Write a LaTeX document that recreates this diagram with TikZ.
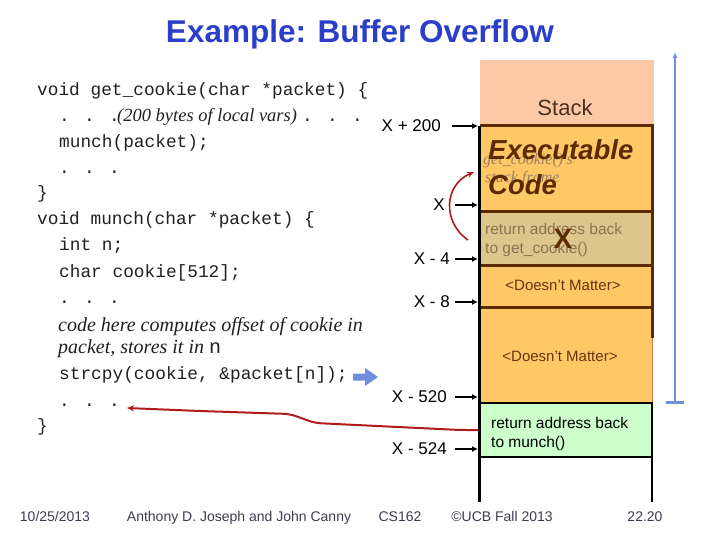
\documentclass[tikz,border=0pt]{standalone}
\usepackage{fontspec}
\setmainfont{Liberation Sans}
\newfontfamily\codefont{Liberation Mono}
\newfontfamily\itfont{Liberation Serif}
\usetikzlibrary{arrows.meta}
\definecolor{peach}{HTML}{FDC8A5}
\definecolor{orangec}{HTML}{FFC866}
\definecolor{tanc}{HTML}{DCC68C}
\definecolor{brownc}{HTML}{5C2A00}
\definecolor{greenc}{HTML}{CCFFCC}
\definecolor{bluec}{HTML}{6E8FDC}
\definecolor{redc}{HTML}{B01C1C}
\definecolor{titleblue}{HTML}{2B3EC8}
\definecolor{footc}{HTML}{3C3C50}
\definecolor{codec}{HTML}{202020}
\definecolor{stacktext}{HTML}{4A3020}
\definecolor{ghost}{HTML}{A08060}
\definecolor{tantext}{HTML}{8A7450}
\definecolor{dmtext}{HTML}{6A3410}
\definecolor{edgec}{HTML}{C08040}
\begin{document}
\begin{tikzpicture}[x=1pt,y=-1pt,
  code/.style={anchor=base west, inner sep=0pt, text=codec, font=\codefont\fontsize{17.8}{20}\selectfont},
  cmt/.style={anchor=base west, inner sep=0pt, text=codec, font=\itfont\itshape\fontsize{20}{22}\selectfont},
  addr/.style={anchor=east, inner sep=0pt, font=\fontsize{17}{20}\selectfont},
  tick/.style={-{Latex[length=6pt,width=6pt]}, line width=1.8pt},
  celltext/.style={anchor=base west, inner sep=0pt, font=\fontsize{15.5}{18}\selectfont},
  foot/.style={anchor=base, inner sep=0pt, text=footc, font=\fontsize{14}{16}\selectfont}]
\useasboundingbox (0,0) rectangle (720,540);

% title
\node[anchor=base, inner sep=0pt, text=titleblue, font=\bfseries\fontsize{31.5}{34}\selectfont] (title) at (360,43) {Example: Buffer Overflow};

% code
\node[code] (c1) at (37,96) {void get\_cookie(char *packet) \{};
\node[code] (c2a) at (59,122) {. . .};
\node[cmt, font=\itfont\itshape\fontsize{18.5}{22}\selectfont] (c2b) at (117,122) {(200 bytes of local vars)};
\node[code] (c2c) at (302,122) {. . .};
\node[code] (c3) at (59,148) {munch(packet);};
\node[code] (c4) at (59,174) {. . .};
\node[code] (c5) at (37,199) {\}};
\node[code] (c6) at (37,225) {void munch(char *packet) \{};
\node[code] (c7) at (59,251) {int n;};
\node[code] (c8) at (59,277) {char cookie[512];};
\node[code] (c9) at (59,303) {. . .};
\node[cmt] (c10) at (58,331) {code here computes offset of cookie in};
\node[cmt] (c11) at (58,353) {packet, stores it in {\codefont\upshape n}};
\node[code] (c12) at (59,379) {strcpy(cookie, \&packet[n]);};
\node[code] (c13) at (59,406) {. . .};
\node[code] (c14) at (37,431) {\}};

% blue block arrow
\fill[bluec] (353,373.5) -- (365,373.5) -- (365,368) -- (378,377) -- (365,386) -- (365,380.5) -- (353,380.5) -- cycle;

% stack
\fill[peach] (480,60) rectangle (654,126);
\node[anchor=base, inner sep=0pt, text=stacktext, font=\fontsize{22}{24}\selectfont] (stk) at (565,116) {Stack};
\fill[orangec] (480,126) rectangle (652,403);
\fill[tanc] (480,212) rectangle (652,265);
\draw[edgec, line width=1pt] (652,338) -- (652,403);
\draw[brownc, line width=3pt] (480,126) -- (652,126) -- (652,338);
\draw[brownc, line width=3pt] (480,212) -- (652,212);
\draw[brownc, line width=3pt] (480,265) -- (652,265);
\draw[brownc, line width=3pt] (480,307) -- (652,307);
\draw[fill=greenc, line width=2pt] (480,403) rectangle (652,457);
\draw[line width=3pt] (479.5,126) -- (479.5,502);
\draw[line width=2pt] (652,457) -- (652,502);

% cell texts
\node[anchor=base west, inner sep=0pt, text=ghost, font=\itfont\itshape\fontsize{16}{18}\selectfont] (g1) at (483,165) {get\_cookie()'s};
\node[anchor=base west, inner sep=0pt, text=ghost, font=\itfont\itshape\fontsize{16}{18}\selectfont] (g2) at (485,183) {stack frame};
\node[anchor=base west, inner sep=0pt, text=brownc, font=\bfseries\itshape\fontsize{27.5}{30}\selectfont] (ex1) at (488,160) {Executable};
\node[anchor=base west, inner sep=0pt, text=brownc, font=\bfseries\itshape\fontsize{27.5}{30}\selectfont] (ex2) at (488,195) {Code};
\node[celltext, text=tantext] (r1) at (485,235) {return address back};
\node[celltext, text=tantext] (r2) at (485,253) {to get\_cookie()};
\node[anchor=base, inner sep=0pt, text=brownc, font=\bfseries\fontsize{28}{30}\selectfont] (bigx) at (563,248) {X};
\node[anchor=base, inner sep=0pt, text=dmtext, font=\fontsize{15}{18}\selectfont] (dm1) at (563,290) {<Doesn't Matter>};
\node[anchor=base, inner sep=0pt, text=dmtext, font=\fontsize{15}{18}\selectfont] (dm2) at (560,361) {<Doesn't Matter>};
\node[celltext] (ga1) at (491,428) {return address back};
\node[celltext] (ga2) at (491,447) {to munch()};

% address labels
\coordinate (edge) at (478,0);
\node[addr] (a200) at (441,126) {X + 200};
\node[addr] (ax) at (445,205) {X};
\node[addr] (a4) at (450,259) {X - 4};
\node[addr] (a8) at (450,302) {X - 8};
\node[addr] (a520) at (447,397) {X - 520};
\node[addr] (a524) at (447,449) {X - 524};
\draw[tick] ([xshift=11pt]a200.east) -- (a200.east -| edge);
\draw[tick] ([xshift=10pt]ax.east) -- (ax.east -| edge);
\draw[tick] ([xshift=5pt]a4.east) -- (a4.east -| edge);
\draw[tick] ([xshift=5pt]a8.east) -- (a8.east -| edge);
\draw[tick] ([xshift=8pt]a520.east) -- (a520.east -| edge);
\draw[tick] ([xshift=8pt]a524.east) -- (a524.east -| edge);

% red curved arrow
\coordinate (rc1) at (468,240);
\coordinate (rc2) at (474,172);
\draw[redc, line width=1.6pt, -{Stealth[length=7pt,width=6pt]}] (rc1) .. controls (442,222) and (444,185) .. (rc2);

% red return line
\coordinate (rl1) at (478,430);
\coordinate (rl2) at (127,408);
\draw[redc, line width=2pt, line join=round, rounded corners=6pt, -{Stealth[length=7pt,width=6pt]}] (rl1) -- (460,430) -- (315,423) -- (290,414) -- (200,411) -- (rl2);

% blue bracket
\coordinate (bb1) at (675,402);
\coordinate (bb2) at (675,52);
\draw[bluec, line width=2pt, -{Latex[length=6pt,width=5pt]}] (bb1) -- (bb2);
\draw[bluec, line width=3pt] (666,402) -- (684,402);

% footer
\node[foot] (f1) at (55,521) {10/25/2013};
\node[foot] (f2) at (239,521) {Anthony D. Joseph and John Canny};
\node[foot] (f3) at (400,521) {CS162};
\node[foot] (f4) at (502,521) {©UCB Fall 2013};
\node[foot] (f5) at (645,521) {22.20};
\end{tikzpicture}
\end{document}
